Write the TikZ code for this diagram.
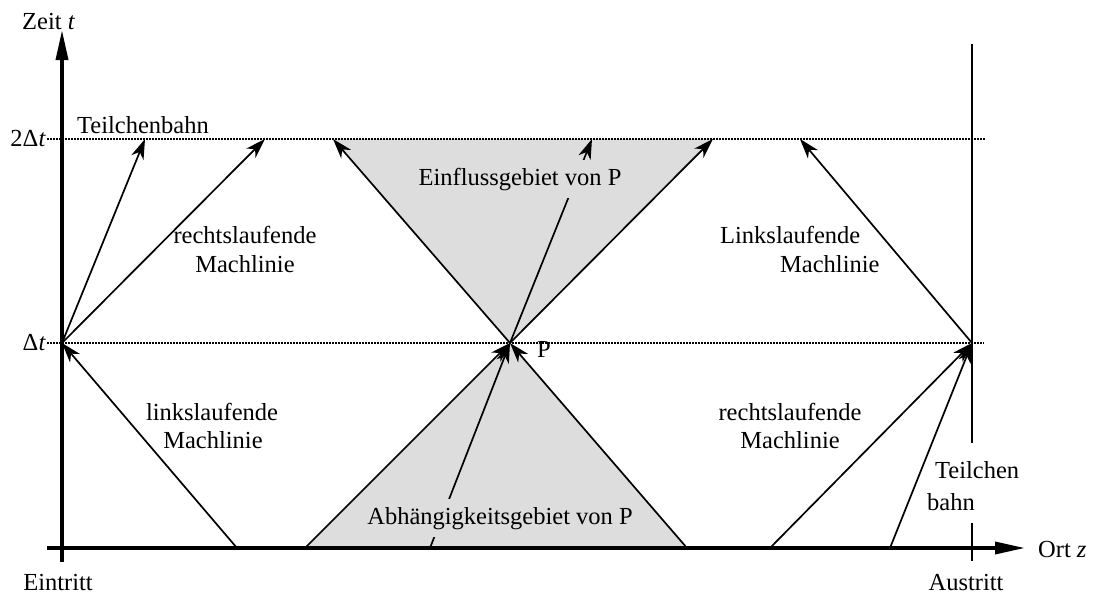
\documentclass[tikz,border=0pt]{standalone}
\usepackage{fontspec}
\setmainfont{Liberation Serif}
\usetikzlibrary{arrows.meta}
\definecolor{regiongray}{RGB}{221,221,221}
\begin{document}
\begin{tikzpicture}[x=1pt,y=-1pt,
  lbl/.style={font=\fontsize{24.5}{28}\selectfont, inner sep=0pt},
  mach/.style={line width=1.7pt, -{Stealth[length=20pt,width=13pt,inset=6pt]}},
  axisline/.style={line width=3.5pt, -{Triangle[length=30pt,width=12pt]}},
  guide/.style={line width=1.2pt, dash pattern=on 1.5pt off 1.5pt},
  wall/.style={line width=2.2pt},
  gfill/.style={lbl, fill=regiongray, inner xsep=3pt, inner ysep=8pt}]
\useasboundingbox (0,0) rectangle (1101,603);
% key points
\coordinate (O) at (62,548);
\coordinate (A0) at (62,343);
\coordinate (P) at (510,343);
\coordinate (R1) at (972,343);
\coordinate (b1) at (237,548);
\coordinate (b2) at (305,548);
\coordinate (b3) at (430,548);
\coordinate (b4) at (687,548);
\coordinate (b5) at (770,548);
\coordinate (b6) at (890,548);
\coordinate (t1) at (145,139);
\coordinate (t2) at (265,139);
\coordinate (t3) at (333,139);
\coordinate (t4) at (592,139);
\coordinate (t5) at (713,139);
\coordinate (t6) at (800,139);
\coordinate (xs) at (47,548);
\coordinate (xe) at (1025,548);
\coordinate (ys) at (62,562);
\coordinate (ye) at (62,30);
\coordinate (g1s) at (47,343);
\coordinate (g1e) at (984,343);
\coordinate (g2s) at (47,139);
\coordinate (g2e) at (985,139);
\coordinate (w1) at (972,44);
\coordinate (w2) at (972,443);
\coordinate (w3) at (972,523);
\coordinate (w4) at (972,561);
% shaded regions
\fill[regiongray] (P) -- (t3) -- (t5) -- cycle;
\fill[regiongray] (P) -- (b2) -- (b4) -- cycle;
% guides
\draw[guide] (g2s) -- (g2e);
\draw[guide] (g1s) -- (g1e);
% exit wall
\draw[wall] (w1) -- (w2);
\draw[wall] (w3) -- (w4);
% axes
\draw[axisline] (xs) -- (xe);
\draw[axisline] (ys) -- (ye);
% Mach lines and particle paths
\draw[mach] (A0) -- (t1);
\draw[mach] (A0) -- (t2);
\draw[mach] (b1) -- (A0);
\draw[mach] (P) -- (t3);
\draw[mach] (P) -- (t5);
\draw[mach] (P) -- (t4);
\draw[mach] (b2) -- (P);
\draw[mach] (b4) -- (P);
\draw[mach] (b3) -- (P);
\draw[mach] (b5) -- (R1);
\draw[mach] (b6) -- (R1);
\draw[mach] (R1) -- (t6);
% region labels
\node[gfill, anchor=base] (ein) at (520,185) {Einflussgebiet von P};
\node[gfill, anchor=base] (abh) at (500,524) {Abhängigkeitsgebiet von P};
% labels
\node[lbl, anchor=base west] (zeit) at (22,29) {Zeit \textit{t}};
\node[lbl, anchor=east] (dt2) at (46,139) {2Δ\textit{t}};
\node[lbl, anchor=east] (dt1) at (46,343) {Δ\textit{t}};
\node[lbl, anchor=base] (eintritt) at (58,590) {Eintritt};
\node[lbl, anchor=base] (austritt) at (966,590) {Austritt};
\node[lbl, anchor=base west] (ort) at (1038,557) {Ort \textit{z}};
\node[lbl, anchor=base west] (tb) at (77,133) {Teilchenbahn};
\node[lbl, anchor=base west] (pl) at (537,357) {P};
\node[lbl, anchor=base] (rl1) at (245,243) {rechtslaufende};
\node[lbl, anchor=base] (rl2) at (245,272) {Machlinie};
\node[lbl, anchor=base] (ll1) at (212,420) {linkslaufende};
\node[lbl, anchor=base] (ll2) at (213,448) {Machlinie};
\node[lbl, anchor=base west] (lr1) at (720,243) {Linkslaufende};
\node[lbl, anchor=base west] (lr2) at (780,272) {Machlinie};
\node[lbl, anchor=base] (rr1) at (790,420) {rechtslaufende};
\node[lbl, anchor=base] (rr2) at (790,448) {Machlinie};
\node[lbl, anchor=base west] (tc1) at (935,478) {Teilchen};
\node[lbl, anchor=base west] (tc2) at (927,510) {bahn};
\end{tikzpicture}
\end{document}
